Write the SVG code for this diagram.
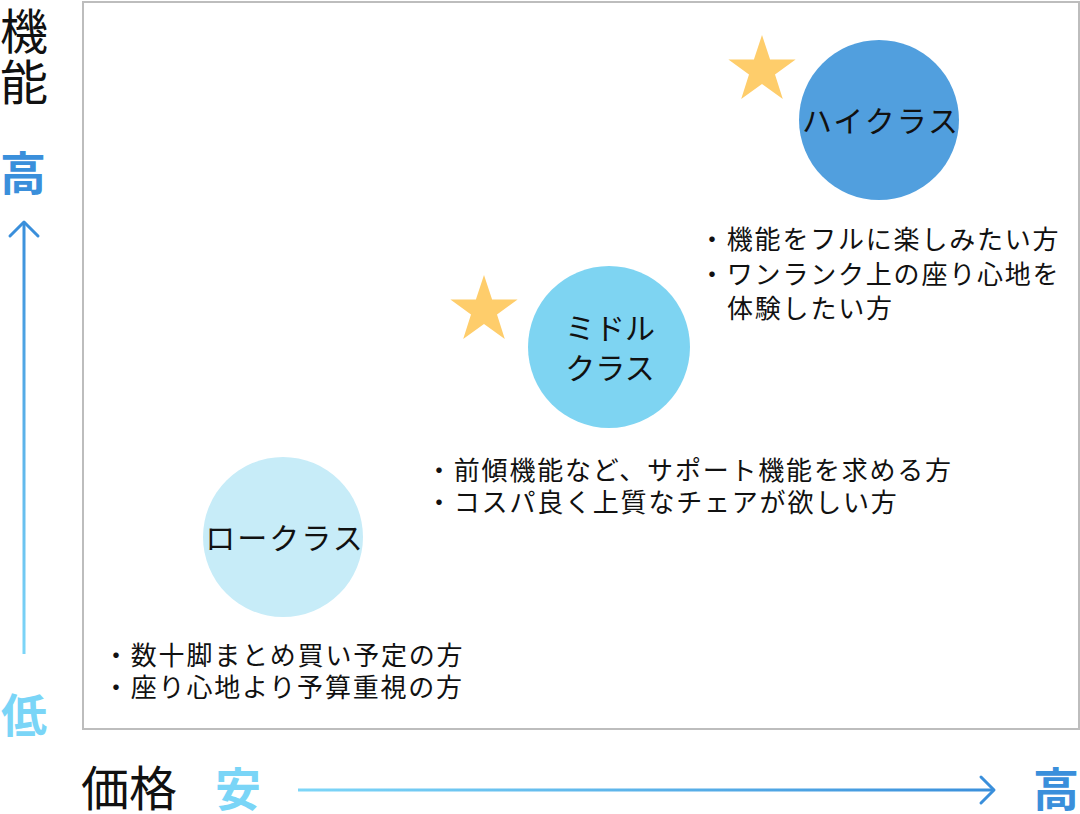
<svg xmlns="http://www.w3.org/2000/svg" width="1080" height="814" viewBox="0 0 1080 814">
<style>
text{font-family:"Noto Sans CJK JP","Noto Sans",sans-serif;fill:#111}
.axis{font-size:48px}
.big{font-size:46px;font-weight:bold}
.blue{fill:#3A8FDB}
.lblue{fill:#7AD5F7}
.lbl{font-size:30px;text-anchor:middle}
.bul{font-size:26px;letter-spacing:1.8px}
.star{fill:#FECD6B}
.arr{fill:none;stroke-width:3;stroke-linecap:round;stroke-linejoin:round}
</style>
<defs>
<linearGradient id="gv" gradientUnits="userSpaceOnUse" x1="0" y1="221" x2="0" y2="654">
<stop offset="0" stop-color="#3A8FDB"/><stop offset="1" stop-color="#7DD6F8"/>
</linearGradient>
<linearGradient id="gh" gradientUnits="userSpaceOnUse" x1="298" y1="0" x2="995" y2="0">
<stop offset="0" stop-color="#7DD6F8"/><stop offset="1" stop-color="#3A8FDB"/>
</linearGradient>
</defs>
<rect width="1080" height="814" fill="#fff"/>
<rect id="frame" x="83" y="2" width="996" height="727" fill="#fff" stroke="#BDBDBD" stroke-width="2"/>

<g id="axis-labels">
<text class="axis" x="0" y="49">機</text>
<text class="axis" x="0" y="100">能</text>
<text class="big blue" x="0" y="190">高</text>
<text class="big lblue" x="1" y="732">低</text>
<text class="axis" x="81" y="806">価格</text>
<text class="big lblue" x="215" y="806">安</text>
<text class="big blue" x="1033" y="806">高</text>
</g>

<g id="connectors">
<line x1="24" y1="223" x2="24" y2="654" stroke="url(#gv)" stroke-width="3"/>
<path class="arr" stroke="#3A8FDB" d="M10,236 L24,222 L38,236"/>
<line x1="298" y1="790" x2="993" y2="790" stroke="url(#gh)" stroke-width="3"/>
<path class="arr" stroke="#3A8FDB" d="M981,777 L994,790 L981,803"/>
</g>

<g id="high-class">
<polygon class="star" points="762,35 770.1,59.5 795.6,59.5 775,74.6 782.8,99 762,84 741.2,99 749,74.6 728.4,59.5 753.9,59.5"/>
<circle cx="879" cy="120" r="80" fill="#519FDE"/>
<text class="lbl" x="881" y="132" letter-spacing="2">ハイクラス</text>
</g>
<g id="high-desc">
<text class="bul" x="699" y="249">・機能をフルに楽しみたい方</text>
<text class="bul" x="699" y="283.5">・ワンランク上の座り心地を</text>
<text class="bul" x="727" y="318">体験したい方</text>
</g>

<g id="middle-class">
<polygon class="star" points="484,275 492.1,299.5 517.6,299.5 497,314.6 504.8,339 484,324 463.2,339 471,314.6 450.4,299.5 475.9,299.5"/>
<circle cx="609" cy="347" r="81" fill="#7ED4F2"/>
<text class="lbl" x="610" y="339">ミドル</text>
<text class="lbl" x="610" y="379">クラス</text>
</g>
<g id="middle-desc">
<text class="bul" x="426" y="480">・前傾機能など、サポート機能を求める方</text>
<text class="bul" x="426" y="512">・コスパ良く上質なチェアが欲しい方</text>
</g>

<g id="low-class">
<circle cx="283" cy="537" r="80" fill="#C7ECF8"/>
<text class="lbl" x="285" y="549" letter-spacing="2">ロークラス</text>
</g>
<g id="low-desc">
<text class="bul" x="103" y="665">・数十脚まとめ買い予定の方</text>
<text class="bul" x="103" y="697">・座り心地より予算重視の方</text>
</g>
</svg>
